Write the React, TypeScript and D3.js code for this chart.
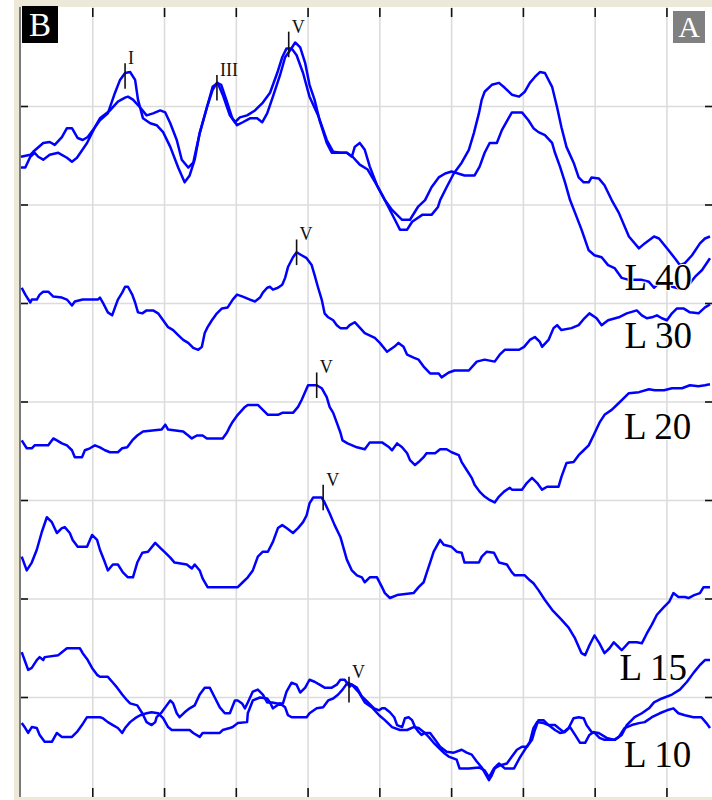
import React from 'react';
import * as d3 from 'd3';

type Pt = [number, number];

// time in ms, level in grid divisions counted from the top
const gridMs = [1, 2, 3, 4, 5, 6, 7, 8, 9];
const gridDiv = [1, 2, 3, 4, 5, 6, 7];

const l40a: Pt[] = [[0.00,1.62],[0.06,1.62],[0.13,1.51],[0.19,1.47],[0.24,1.51],[0.31,1.54],[0.40,1.49],[0.52,1.47],[0.64,1.52],[0.71,1.56],[0.78,1.52],[0.92,1.37],[1.03,1.21],[1.10,1.14],[1.21,1.07],[1.31,0.86],[1.38,0.73],[1.45,0.66],[1.52,0.65],[1.59,0.73],[1.63,0.93],[1.70,1.12],[1.80,1.17],[1.89,1.19],[1.98,1.26],[2.08,1.41],[2.19,1.62],[2.28,1.77],[2.35,1.70],[2.42,1.54],[2.49,1.27],[2.59,1.01],[2.67,0.83],[2.73,0.76],[2.79,0.78],[2.86,0.93],[2.94,1.11],[3.01,1.19],[3.09,1.16],[3.19,1.12],[3.29,1.12],[3.36,1.16],[3.43,1.07],[3.51,0.90],[3.61,0.68],[3.68,0.50],[3.75,0.43],[3.82,0.35],[3.89,0.40],[3.96,0.56],[4.02,0.78],[4.09,0.93],[4.16,1.14],[4.26,1.37],[4.33,1.47],[4.54,1.47],[4.62,1.51],[4.72,1.59],[4.83,1.64],[4.96,1.80],[5.07,1.95],[5.17,2.05],[5.31,2.15],[5.42,2.15],[5.53,2.02],[5.63,1.95],[5.72,1.82],[5.82,1.72],[5.91,1.68],[6.00,1.66],[6.18,1.70],[6.32,1.70],[6.39,1.61],[6.46,1.47],[6.53,1.37],[6.63,1.37],[6.70,1.24],[6.80,1.11],[6.84,1.06],[6.98,1.06],[7.07,1.14],[7.14,1.22],[7.21,1.26],[7.30,1.29],[7.40,1.37],[7.44,1.47],[7.51,1.61],[7.58,1.77],[7.65,1.95],[7.72,2.08],[7.81,2.25],[7.91,2.46],[7.99,2.51],[8.09,2.53],[8.18,2.61],[8.27,2.64],[8.37,2.74],[8.47,2.76],[8.65,2.76],[8.75,2.78],[8.82,2.84],[8.89,2.79],[8.97,2.79],[9.07,2.83],[9.25,2.86],[9.39,2.73],[9.49,2.66],[9.60,2.54]];

const l40b: Pt[] = [[0.00,1.51],[0.13,1.49],[0.17,1.46],[0.31,1.37],[0.40,1.36],[0.47,1.39],[0.57,1.31],[0.64,1.22],[0.71,1.22],[0.79,1.32],[0.86,1.34],[0.93,1.31],[1.03,1.21],[1.10,1.12],[1.24,1.04],[1.35,0.95],[1.45,0.91],[1.49,0.90],[1.56,0.93],[1.66,1.01],[1.75,1.09],[1.84,1.07],[1.94,1.04],[2.01,1.06],[2.08,1.17],[2.17,1.34],[2.24,1.54],[2.33,1.62],[2.40,1.57],[2.49,1.27],[2.59,1.01],[2.67,0.80],[2.74,0.76],[2.81,0.88],[2.91,1.09],[2.98,1.16],[3.05,1.11],[3.15,1.09],[3.26,1.04],[3.37,0.96],[3.47,0.86],[3.57,0.66],[3.64,0.50],[3.70,0.41],[3.77,0.41],[3.84,0.48],[3.93,0.66],[4.02,0.90],[4.14,1.09],[4.26,1.34],[4.35,1.46],[4.45,1.47],[4.54,1.47],[4.61,1.51],[4.65,1.41],[4.72,1.37],[4.79,1.44],[4.86,1.61],[4.96,1.80],[5.07,1.95],[5.21,2.15],[5.28,2.25],[5.38,2.25],[5.45,2.17],[5.59,2.10],[5.72,2.10],[5.81,2.02],[5.84,1.95],[5.93,1.82],[6.03,1.68],[6.14,1.57],[6.24,1.44],[6.31,1.27],[6.38,1.07],[6.42,0.93],[6.46,0.85],[6.56,0.78],[6.66,0.76],[6.74,0.81],[6.84,0.88],[6.94,0.90],[7.02,0.85],[7.09,0.76],[7.16,0.70],[7.23,0.65],[7.30,0.66],[7.40,0.80],[7.47,1.01],[7.53,1.21],[7.60,1.41],[7.70,1.57],[7.77,1.72],[7.84,1.77],[7.91,1.77],[7.95,1.72],[8.05,1.73],[8.13,1.80],[8.23,1.95],[8.33,2.08],[8.47,2.32],[8.61,2.44],[8.69,2.39],[8.82,2.32],[8.89,2.34],[9.00,2.44],[9.11,2.54],[9.18,2.61],[9.25,2.59],[9.35,2.51],[9.46,2.39],[9.53,2.34],[9.60,2.32]];

const l30: Pt[] = [[0.01,2.84],[0.06,2.91],[0.13,2.99],[0.15,2.96],[0.22,2.96],[0.26,2.91],[0.31,2.88],[0.38,2.88],[0.45,2.93],[0.57,2.94],[0.64,2.96],[0.71,3.02],[0.75,2.98],[0.86,2.96],[1.07,2.96],[1.10,2.94],[1.14,2.99],[1.21,3.09],[1.27,3.12],[1.31,3.04],[1.35,2.96],[1.41,2.89],[1.45,2.83],[1.49,2.83],[1.55,2.91],[1.59,2.99],[1.63,3.09],[1.69,3.10],[1.75,3.07],[1.84,3.07],[1.91,3.10],[1.98,3.17],[2.05,3.24],[2.12,3.27],[2.19,3.32],[2.26,3.37],[2.33,3.40],[2.40,3.45],[2.47,3.47],[2.52,3.44],[2.56,3.30],[2.60,3.24],[2.66,3.17],[2.73,3.10],[2.80,3.05],[2.88,3.04],[2.95,2.96],[3.01,2.91],[3.09,2.93],[3.19,2.96],[3.26,2.98],[3.33,2.94],[3.37,2.89],[3.43,2.84],[3.47,2.83],[3.51,2.86],[3.58,2.84],[3.64,2.81],[3.68,2.74],[3.72,2.63],[3.79,2.53],[3.84,2.48],[3.91,2.51],[3.98,2.54],[4.05,2.61],[4.09,2.71],[4.14,2.84],[4.19,2.96],[4.23,3.10],[4.28,3.14],[4.35,3.17],[4.40,3.22],[4.45,3.25],[4.54,3.25],[4.58,3.22],[4.65,3.19],[4.79,3.30],[4.93,3.35],[5.00,3.40],[5.10,3.49],[5.20,3.44],[5.26,3.40],[5.33,3.44],[5.38,3.52],[5.47,3.55],[5.54,3.57],[5.61,3.64],[5.70,3.71],[5.82,3.71],[5.86,3.75],[5.96,3.70],[6.04,3.68],[6.24,3.68],[6.35,3.59],[6.46,3.57],[6.60,3.59],[6.67,3.52],[6.74,3.47],[6.94,3.47],[7.01,3.44],[7.09,3.37],[7.16,3.34],[7.23,3.39],[7.26,3.44],[7.35,3.37],[7.42,3.25],[7.47,3.22],[7.53,3.27],[7.67,3.25],[7.77,3.22],[7.85,3.15],[7.92,3.10],[8.02,3.15],[8.09,3.22],[8.18,3.17],[8.33,3.14],[8.44,3.10],[8.58,3.07],[8.65,3.12],[8.72,3.15],[8.79,3.14],[8.86,3.12],[8.93,3.15],[9.00,3.17],[9.07,3.10],[9.14,3.05],[9.23,3.05],[9.32,3.09],[9.44,3.10],[9.53,3.04],[9.60,3.01]];

const l20: Pt[] = [[0.01,4.39],[0.08,4.47],[0.15,4.47],[0.19,4.44],[0.38,4.44],[0.45,4.37],[0.50,4.39],[0.57,4.42],[0.64,4.44],[0.71,4.49],[0.75,4.56],[0.85,4.56],[0.89,4.49],[0.96,4.47],[1.03,4.44],[1.10,4.46],[1.17,4.49],[1.24,4.51],[1.35,4.51],[1.41,4.47],[1.48,4.46],[1.55,4.39],[1.62,4.34],[1.70,4.30],[1.96,4.28],[2.01,4.23],[2.05,4.28],[2.26,4.30],[2.33,4.34],[2.38,4.37],[2.45,4.34],[2.53,4.34],[2.59,4.37],[2.81,4.37],[2.87,4.31],[2.91,4.25],[2.95,4.20],[3.02,4.13],[3.12,4.05],[3.16,4.03],[3.30,4.03],[3.37,4.08],[3.44,4.13],[3.58,4.13],[3.64,4.11],[3.79,4.11],[3.86,4.05],[3.91,3.98],[4.00,3.83],[4.12,3.83],[4.19,3.86],[4.26,3.95],[4.30,4.05],[4.35,4.11],[4.40,4.21],[4.45,4.31],[4.48,4.39],[4.55,4.42],[4.68,4.46],[4.79,4.48],[4.86,4.41],[5.03,4.41],[5.13,4.46],[5.17,4.49],[5.24,4.42],[5.31,4.46],[5.38,4.52],[5.42,4.59],[5.49,4.64],[5.54,4.61],[5.61,4.56],[5.65,4.52],[5.77,4.52],[5.84,4.48],[5.93,4.48],[6.00,4.51],[6.10,4.54],[6.14,4.61],[6.21,4.69],[6.28,4.77],[6.32,4.84],[6.39,4.91],[6.46,4.96],[6.52,4.99],[6.60,5.02],[6.66,4.96],[6.73,4.91],[6.81,4.87],[6.84,4.89],[6.98,4.89],[7.05,4.82],[7.12,4.77],[7.19,4.82],[7.26,4.89],[7.33,4.86],[7.49,4.86],[7.53,4.76],[7.60,4.62],[7.70,4.61],[7.77,4.54],[7.84,4.49],[7.91,4.44],[7.99,4.32],[8.06,4.21],[8.13,4.13],[8.23,4.08],[8.33,4.01],[8.47,3.91],[8.61,3.90],[8.75,3.87],[8.83,3.88],[8.96,3.88],[9.07,3.86],[9.21,3.86],[9.32,3.83],[9.44,3.84],[9.53,3.83],[9.60,3.82]];

const l15: Pt[] = [[0.01,5.57],[0.08,5.71],[0.15,5.63],[0.22,5.50],[0.29,5.32],[0.36,5.17],[0.43,5.22],[0.50,5.33],[0.57,5.28],[0.61,5.27],[0.68,5.33],[0.72,5.40],[0.79,5.47],[0.92,5.47],[0.99,5.35],[1.06,5.40],[1.10,5.50],[1.17,5.63],[1.21,5.71],[1.28,5.65],[1.35,5.65],[1.42,5.73],[1.49,5.78],[1.56,5.78],[1.62,5.63],[1.69,5.53],[1.77,5.52],[1.87,5.43],[1.94,5.48],[2.01,5.53],[2.08,5.58],[2.14,5.63],[2.31,5.65],[2.38,5.69],[2.42,5.65],[2.49,5.71],[2.53,5.79],[2.60,5.88],[3.02,5.88],[3.09,5.83],[3.16,5.78],[3.23,5.71],[3.30,5.57],[3.37,5.52],[3.44,5.52],[3.51,5.42],[3.58,5.28],[3.64,5.25],[3.70,5.28],[3.79,5.33],[3.86,5.28],[3.93,5.22],[3.98,5.15],[4.02,5.03],[4.07,4.97],[4.19,4.97],[4.23,5.02],[4.30,5.13],[4.37,5.25],[4.45,5.37],[4.54,5.60],[4.61,5.71],[4.68,5.76],[4.75,5.78],[4.79,5.83],[4.86,5.78],[4.96,5.78],[5.03,5.88],[5.07,5.94],[5.14,5.99],[5.24,5.96],[5.47,5.94],[5.54,5.88],[5.61,5.83],[5.65,5.74],[5.70,5.63],[5.75,5.52],[5.84,5.40],[5.89,5.45],[6.00,5.47],[6.07,5.52],[6.14,5.53],[6.18,5.63],[6.38,5.63],[6.42,5.57],[6.49,5.52],[6.59,5.53],[6.66,5.63],[6.77,5.65],[6.84,5.73],[6.88,5.76],[7.02,5.76],[7.09,5.81],[7.14,5.84],[7.21,5.91],[7.30,6.01],[7.40,6.11],[7.53,6.21],[7.63,6.29],[7.72,6.40],[7.81,6.55],[7.86,6.57],[7.92,6.47],[7.99,6.37],[8.06,6.45],[8.13,6.55],[8.20,6.50],[8.26,6.44],[8.33,6.49],[8.37,6.52],[8.47,6.44],[8.58,6.44],[8.65,6.45],[8.72,6.35],[8.79,6.26],[8.86,6.16],[8.96,6.08],[9.03,6.03],[9.09,5.94],[9.16,5.98],[9.25,5.98],[9.30,5.99],[9.38,5.96],[9.46,5.94],[9.51,5.88],[9.60,5.88]];

const l10a: Pt[] = [[0.01,6.54],[0.06,6.64],[0.10,6.72],[0.15,6.70],[0.22,6.62],[0.26,6.59],[0.31,6.62],[0.33,6.59],[0.52,6.57],[0.57,6.54],[0.64,6.50],[0.82,6.50],[0.86,6.55],[0.93,6.62],[0.99,6.70],[1.06,6.77],[1.10,6.79],[1.21,6.79],[1.27,6.84],[1.34,6.90],[1.41,6.97],[1.48,7.03],[1.52,7.06],[1.62,7.08],[1.69,7.16],[1.75,7.25],[1.82,7.28],[1.87,7.25],[1.89,7.20],[1.96,7.15],[2.03,7.08],[2.08,7.03],[2.12,7.06],[2.17,7.16],[2.21,7.20],[2.28,7.15],[2.35,7.11],[2.42,7.08],[2.49,6.97],[2.56,6.90],[2.63,6.90],[2.70,7.00],[2.77,7.10],[2.84,7.16],[2.91,7.16],[2.98,7.03],[3.02,7.03],[3.08,7.06],[3.12,7.11],[3.16,7.05],[3.23,6.94],[3.30,6.92],[3.37,6.97],[3.43,7.05],[3.50,7.05],[3.57,7.06],[3.65,7.06],[3.70,6.94],[3.77,6.85],[3.84,6.87],[3.89,6.95],[3.96,6.90],[4.02,6.82],[4.09,6.84],[4.16,6.87],[4.23,6.90],[4.33,6.90],[4.40,6.87],[4.45,6.82],[4.51,6.82],[4.58,6.89],[4.61,6.87],[4.68,6.90],[4.75,6.99],[4.85,7.06],[4.92,7.11],[4.99,7.13],[5.03,7.11],[5.07,7.11],[5.14,7.15],[5.20,7.20],[5.24,7.28],[5.31,7.30],[5.35,7.21],[5.40,7.20],[5.45,7.23],[5.49,7.30],[5.54,7.35],[5.58,7.38],[5.63,7.36],[5.70,7.36],[5.77,7.43],[5.84,7.50],[5.93,7.55],[6.03,7.56],[6.14,7.53],[6.21,7.56],[6.28,7.58],[6.35,7.65],[6.42,7.71],[6.52,7.84],[6.56,7.79],[6.60,7.72],[6.67,7.69],[6.77,7.67],[6.84,7.60],[6.91,7.53],[6.98,7.50],[7.05,7.50],[7.12,7.43],[7.16,7.33],[7.21,7.23],[7.28,7.23],[7.35,7.28],[7.44,7.28],[7.49,7.31],[7.56,7.35],[7.63,7.31],[7.70,7.21],[7.77,7.20],[7.84,7.21],[7.88,7.28],[7.95,7.35],[8.05,7.36],[8.16,7.41],[8.27,7.43],[8.37,7.38],[8.44,7.28],[8.55,7.20],[8.65,7.16],[8.75,7.11],[8.82,7.05],[8.93,7.01],[9.07,6.97],[9.18,6.92],[9.28,6.84],[9.37,6.75],[9.46,6.67],[9.53,6.62],[9.60,6.62]];

const l10b: Pt[] = [[0.01,7.26],[0.06,7.31],[0.10,7.36],[0.15,7.30],[0.22,7.31],[0.26,7.38],[0.33,7.45],[0.43,7.45],[0.50,7.36],[0.57,7.40],[0.71,7.40],[0.78,7.35],[0.85,7.28],[0.92,7.20],[1.10,7.20],[1.14,7.21],[1.21,7.25],[1.28,7.28],[1.35,7.31],[1.41,7.36],[1.45,7.31],[1.52,7.25],[1.59,7.21],[1.66,7.18],[1.75,7.16],[1.82,7.15],[1.91,7.16],[1.98,7.21],[2.05,7.30],[2.10,7.33],[2.35,7.33],[2.40,7.36],[2.49,7.40],[2.53,7.36],[2.77,7.36],[2.81,7.33],[2.91,7.31],[2.95,7.30],[3.02,7.26],[3.15,7.25],[3.16,7.16],[3.23,7.03],[3.33,7.00],[3.43,7.01],[3.47,7.05],[3.51,7.11],[3.61,7.06],[3.68,7.10],[3.72,7.18],[3.77,7.20],[3.98,7.20],[4.02,7.16],[4.12,7.11],[4.21,7.10],[4.28,7.03],[4.35,7.01],[4.42,6.97],[4.48,6.92],[4.55,6.85],[4.61,6.87],[4.71,6.95],[4.79,7.05],[4.89,7.10],[4.99,7.18],[5.07,7.23],[5.17,7.30],[5.28,7.33],[5.38,7.33],[5.47,7.30],[5.54,7.31],[5.61,7.35],[5.68,7.40],[5.75,7.46],[5.82,7.51],[5.89,7.56],[5.96,7.60],[6.07,7.63],[6.11,7.72],[6.24,7.72],[6.38,7.71],[6.46,7.74],[6.52,7.81],[6.59,7.72],[6.66,7.67],[6.74,7.72],[6.87,7.72],[6.95,7.61],[7.02,7.53],[7.09,7.45],[7.14,7.31],[7.19,7.25],[7.28,7.26],[7.35,7.28],[7.44,7.33],[7.51,7.36],[7.58,7.35],[7.65,7.30],[7.72,7.38],[7.79,7.46],[7.86,7.46],[7.92,7.38],[7.98,7.35],[8.06,7.41],[8.13,7.43],[8.27,7.43],[8.33,7.40],[8.41,7.31],[8.51,7.28],[8.61,7.26],[8.69,7.25],[8.79,7.20],[8.90,7.16],[9.00,7.13],[9.09,7.11],[9.16,7.16],[9.25,7.18],[9.37,7.20],[9.48,7.20],[9.55,7.26],[9.60,7.31]];

const traces = [l40a, l40b, l30, l20, l15, l10a, l10b];

// wave peak markers
const peakNames = ['I', 'III', 'V', 'V', 'V', 'V', 'V'];
const peakMs = [1.45, 2.73, 3.73, 3.84, 4.12, 4.21, 4.57];
const peakDiv = [0.69, 0.81, 0.37, 2.48, 3.83, 4.97, 6.92];

// stimulus level labels
const levelNames = ['L 40', 'L 30', 'L 20', 'L 15', 'L 10'];
const levelMs = [8.41, 8.41, 8.40, 8.34, 8.40];
const levelDiv = [2.86, 3.45, 4.38, 6.82, 7.71];

const W = 712;
const H = 800;
const plot = { left: 21, right: 712, top: 7, bottom: 797 };

const App = () => {
  const x = d3.scaleLinear().domain([0, 9.6]).range([21, 710]);
  const y = d3.scaleLinear().domain([0, 8]).range([8, 796]);
  const line = d3.line<Pt>().x(d => x(d[0])).y(d => y(d[1]));
  const serif = '"Liberation Serif", "Times New Roman", serif';
  const half = 0.13; // half length of a peak marker, in divisions

  return (
    <>
      <style>{'body{margin:0}'}</style>
      <svg width={W} height={H} style={{ display: 'block' }}>
        <rect x={0} y={0} width={W} height={H} fill="#fff" />
        {/* window frame */}
        <rect x={14} y={0} width={W - 14} height={plot.top} fill="#ECE9D8" />
        <rect x={14} y={0} width={5} height={H} fill="#ECE9D8" />
        <rect x={14} y={plot.bottom} width={W - 14} height={H - plot.bottom} fill="#ECE9D8" />
        <line x1={20} x2={20} y1={plot.top} y2={plot.bottom} stroke="#7a7a7a" strokeWidth={2} />

        {/* grid */}
        <g stroke="#dcdcdc" strokeWidth={1.6}>
          {gridMs.map(t => (
            <line key={'gx' + t} x1={x(t)} x2={x(t)} y1={plot.top} y2={plot.bottom} />
          ))}
          {gridDiv.map(v => (
            <line key={'gy' + v} x1={plot.left} x2={plot.right} y1={y(v)} y2={y(v)} />
          ))}
        </g>

        {/* ticks */}
        <g stroke="#111" strokeWidth={1.6}>
          {gridMs.map(t => (
            <g key={'tx' + t}>
              <line x1={x(t)} x2={x(t)} y1={plot.top + 1} y2={plot.top + 10} />
              <line x1={x(t)} x2={x(t)} y1={plot.bottom - 9} y2={plot.bottom} />
            </g>
          ))}
          {gridDiv.map(v => (
            <g key={'ty' + v}>
              <line x1={plot.left} x2={plot.left + 7} y1={y(v)} y2={y(v)} />
              <line x1={plot.right - 7} x2={plot.right} y1={y(v)} y2={y(v)} />
            </g>
          ))}
        </g>

        {/* waveforms */}
        <g fill="none" stroke="#0000ff" strokeWidth={2.5} strokeLinejoin="round">
          {traces.map((tr, i) => (
            <path key={'tr' + i} d={line(tr) ?? ''} />
          ))}
        </g>

        {/* peak markers */}
        {peakNames.map((name, i) => (
          <g key={'pk' + i}>
            <line
              x1={x(peakMs[i])} x2={x(peakMs[i])}
              y1={y(peakDiv[i] - half)} y2={y(peakDiv[i] + half)}
              stroke="#111" strokeWidth={1.6}
            />
            <text
              x={x(peakMs[i]) + 3} y={y(peakDiv[i] - half) + 1}
              fontFamily={serif} fontSize={18} fill="#111"
            >
              {name}
            </text>
          </g>
        ))}

        {/* level labels */}
        {levelNames.map((name, i) => (
          <text
            key={'lv' + i}
            x={x(levelMs[i])} y={y(levelDiv[i])}
            fontFamily={serif} fontSize={37} fill="#000"
            stroke="#fff" strokeWidth={2} paintOrder="stroke"
          >
            {name}
          </text>
        ))}

        {/* panel letters */}
        <rect x={22} y={6} width={36} height={37} fill="#000" />
        <text x={40} y={36} textAnchor="middle" fontFamily={serif} fontSize={33} fill="#fff">B</text>
        <rect x={673} y={11} width={32} height={32} fill="#808080" />
        <text x={689} y={37} textAnchor="middle" fontFamily={serif} fontSize={30} fill="#fff">A</text>
      </svg>
    </>
  );
};

export default App;
